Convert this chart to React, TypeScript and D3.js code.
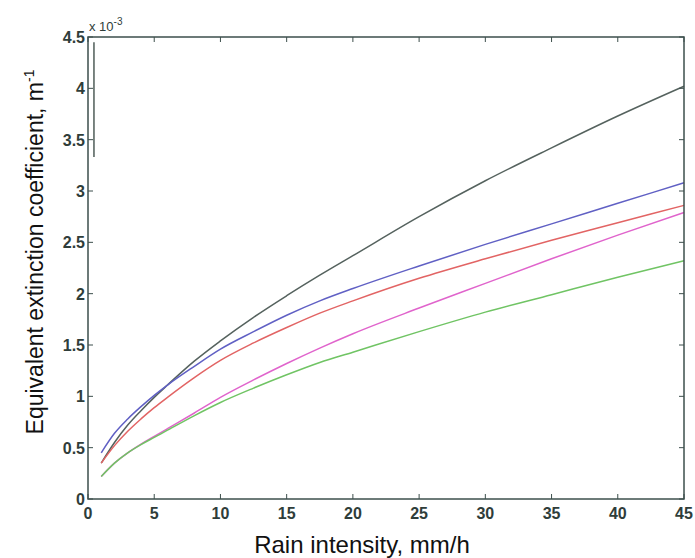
import React from "react";
import * as d3 from "d3";

const rainX = [1, 2, 3, 4, 5, 6, 8, 10, 12.5, 15, 17.5, 20, 25, 30, 35, 40, 45];
const blackSeries = [0.35, 0.55, 0.72, 0.86, 0.99, 1.11, 1.34, 1.54, 1.77, 1.98, 2.18, 2.37, 2.75, 3.1, 3.42, 3.73, 4.02];
const blueSeries = [0.45, 0.64, 0.78, 0.9, 1.01, 1.11, 1.29, 1.46, 1.63, 1.79, 1.93, 2.05, 2.27, 2.48, 2.68, 2.88, 3.08];
const redSeries = [0.35, 0.52, 0.66, 0.78, 0.89, 0.99, 1.18, 1.35, 1.52, 1.67, 1.81, 1.93, 2.15, 2.34, 2.52, 2.69, 2.86];
const pinkSeries = [0.22, 0.35, 0.45, 0.535, 0.61, 0.685, 0.835, 0.99, 1.16, 1.32, 1.47, 1.61, 1.86, 2.1, 2.34, 2.57, 2.79];
const greenSeries = [0.22, 0.35, 0.45, 0.53, 0.6, 0.67, 0.81, 0.94, 1.08, 1.21, 1.33, 1.43, 1.63, 1.82, 1.99, 2.16, 2.32];
const spikeX = [0.45, 0.45];
const spikeY = [3.33, 4.45];

const xTicks = [0, 5, 10, 15, 20, 25, 30, 35, 40, 45];
const yTicks = [0, 0.5, 1, 1.5, 2, 2.5, 3, 3.5, 4, 4.5];
const yTickLabels = ["0", "0.5", "1", "1.5", "2", "2.5", "3", "3.5", "4", "4.5"];

const seriesList = [
  { name: "black", values: blackSeries, color: "#55625e" },
  { name: "blue", values: blueSeries, color: "#6060c4" },
  { name: "red", values: redSeries, color: "#e26464" },
  { name: "pink", values: pinkSeries, color: "#e064cc" },
  { name: "green", values: greenSeries, color: "#70c464" },
];

export default function App() {
  const W = 695, H = 558;
  const left = 88, right = 684, top = 37, bottom = 499;
  const x = d3.scaleLinear().domain([0, 45]).range([left, right]);
  const y = d3.scaleLinear().domain([0, 4.5]).range([bottom, top]);
  const line = d3
    .line<[number, number]>()
    .x((d) => x(d[0]))
    .y((d) => y(d[1]))
    .curve(d3.curveMonotoneX);
  const axisColor = "#3d4f4c";
  const tickLen = 5;
  const font = "Arial, 'Liberation Sans', Helvetica, sans-serif";

  return (
    <svg
      width={W}
      height={H}
      style={{ position: "absolute", left: 0, top: 0, background: "#fff" }}
    >
      <rect x={0} y={0} width={W} height={H} fill="#fff" />
      {seriesList.map((s) => (
        <path
          key={s.name}
          d={line(rainX.map((v, i) => [v, s.values[i]] as [number, number])) || ""}
          fill="none"
          stroke={s.color}
          strokeWidth={1.5}
        />
      ))}
      <path
        d={line(spikeX.map((v, i) => [v, spikeY[i]] as [number, number])) || ""}
        stroke="#4f5d58"
        strokeWidth={1.5}
        fill="none"
      />
      <rect
        x={left}
        y={top}
        width={right - left}
        height={bottom - top}
        fill="none"
        stroke={axisColor}
        strokeWidth={1.5}
      />
      {xTicks.map((t) => (
        <g key={"x" + t}>
          <line x1={x(t)} x2={x(t)} y1={bottom} y2={bottom - tickLen} stroke={axisColor} strokeWidth={1} />
          <line x1={x(t)} x2={x(t)} y1={top} y2={top + tickLen} stroke={axisColor} strokeWidth={1} />
          <text
            x={x(t)}
            y={bottom + 20}
            textAnchor="middle"
            fontFamily={font}
            fontSize={16}
            fontWeight="bold"
            fill="#2f3d3a"
          >
            {t}
          </text>
        </g>
      ))}
      {yTicks.map((t, i) => (
        <g key={"y" + t}>
          <line x1={left} x2={left + tickLen} y1={y(t)} y2={y(t)} stroke={axisColor} strokeWidth={1} />
          <line x1={right} x2={right - tickLen} y1={y(t)} y2={y(t)} stroke={axisColor} strokeWidth={1} />
          <text
            x={left - 3}
            y={y(t) + 6}
            textAnchor="end"
            fontFamily={font}
            fontSize={16}
            fontWeight="bold"
            fill="#2f3d3a"
          >
            {yTickLabels[i]}
          </text>
        </g>
      ))}
      <text x={left + 1} y={top - 6} fontFamily={font} fontSize={13} fill="#2f3d3a">
        x 10
        <tspan dy={-6} fontSize={10}>-3</tspan>
      </text>
      <text
        x={362}
        y={553}
        textAnchor="middle"
        fontFamily={font}
        fontSize={24}
        fill="#111"
      >
        Rain intensity, mm/h
      </text>
      <text
        transform={`translate(43, 252) rotate(-90)`}
        textAnchor="middle"
        fontFamily={font}
        fontSize={23}
        fill="#111"
      >
        Equivalent extinction coefficient, m
        <tspan dy={-9} fontSize={14}>-1</tspan>
      </text>
    </svg>
  );
}
